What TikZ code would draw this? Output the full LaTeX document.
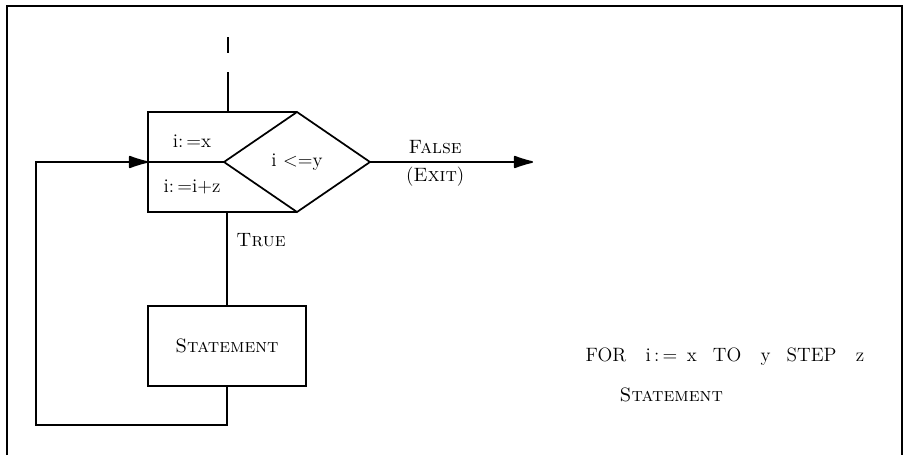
\documentclass[tikz,border=0pt]{standalone}
\usepackage{tikz}
\usetikzlibrary{positioning}
\usetikzlibrary{shapes.geometric}
\usetikzlibrary{arrows.meta}

\begin{document}
\begin{tikzpicture}[x=0.75pt, y=-0.75pt,
                          every node/.style={font=\fontsize{14.5}{16}\selectfont},
                          flowline/.style={line width=1.3pt},
                          flowarrow/.style={line width=1.3pt, -{Latex[length=17pt, width=10pt, round]}},
                          decisionnode/.style={diamond, draw, line width=1.3pt, minimum width=109.5pt, minimum height=75pt, inner sep=0pt, outer sep=0pt},
                          initnode/.style={rectangle, minimum width=111pt, minimum height=75pt, inner sep=0pt, outer sep=0pt},
                          squarednode/.style={rectangle, draw, line width=1.3pt, minimum width=118.5pt, minimum height=60pt, outer sep=0pt},
                      ]
                      \useasboundingbox (0,0) rectangle (907,455);
                      %Frame
                      \draw[line width=1pt] (7,455) -- (7,6) -- (902,6) -- (902,455);

                      %Nodes
                      \node[initnode]       (init)     at (222,162)           {};
                      \node[decisionnode]   (test)     at (297,162)           {i <=y};
                      \node                 (start)    at (192,141)           {i:\thinspace=x};
                      \node                 (step)     at (192,187)           {i:\thinspace=i+z};
                      \node[squarednode]    (stmt)     at (227,346)           {\textsc{Statement}};
                      \node                 (true)     at (261,240)           {\textsc{True}};
                      \coordinate           (entry)    at (228,72);
                      \coordinate           (exit)     at (533,162);
                      \coordinate           (back)     at (36,425);
                      \node[anchor=base west] (forline) at (581,361)
                            {FOR\quad i\,:\,=\enspace x\enspace\ TO\quad y\enspace\ STEP\quad z};
                      \node[anchor=base west] (forbody) at (615,401)  {\textsc{Statement}};

                      %Lines
                      \draw[flowline] (test.north) -- (init.north west) -- (init.south west) -- (test.south);
                      \draw[flowline] (init.west) -- (test.west);
                      \draw[flowline] (228,37) -- (228,53);
                      \draw[flowline] (entry) -- (entry |- init.north);
                      \draw[flowarrow] (test.east) -- node[pos=0.4, above=2pt] {\textsc{False}}
                                                    node[pos=0.4, below=0pt] {(\textsc{Exit})} (exit);
                      \draw[flowline] (stmt.north |- init.south) -- (stmt.north);
                      \draw[flowarrow] (stmt.south) |- (back) |- (init.west);
                  \end{tikzpicture}
\end{document}
